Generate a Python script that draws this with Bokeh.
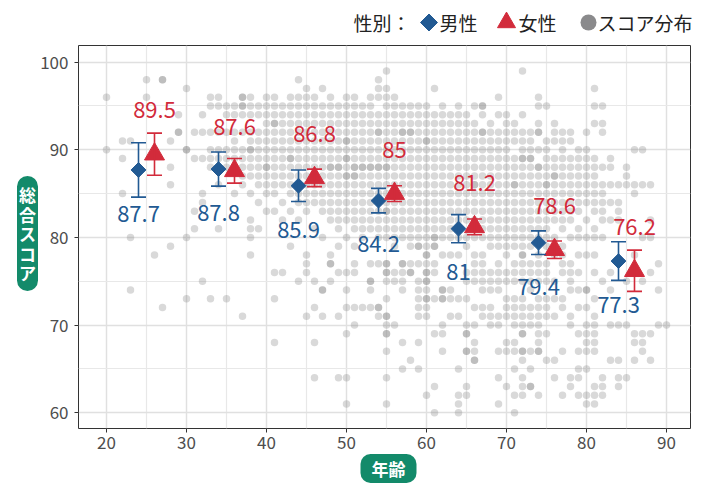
import math
from bokeh.plotting import figure
from bokeh.models import ColumnDataSource, Whisker, TeeHead, FixedTicker, Label, Range1d
from bokeh.embed import file_html
from bokeh.resources import INLINE
from bokeh.core.properties import value

FONT = "Noto Sans CJK JP"
BLUE = "#225A93"
RED = "#D22B3B"
GREY = "#808080"
GREEN = "#138A6A"

# ---------------- data ----------------
male_age = [24, 34, 44, 54, 64, 74, 84]
female_age = [26, 36, 46, 56, 66, 76, 86]
male_mean = [87.7, 87.8, 85.9, 84.2, 81.0, 79.4, 77.3]
female_mean = [89.5, 87.6, 86.8, 85.0, 81.2, 78.6, 76.2]
male_err = [3.1, 1.95, 1.8, 1.4, 1.6, 1.35, 2.2]
female_err = [2.4, 1.4, 1.0, 0.9, 0.9, 1.0, 2.35]

x_ticks = [20, 30, 40, 50, 60, 70, 80, 90]
x_minor = [15, 25, 35, 45, 55, 65, 75, 85, 95]
y_ticks = [60, 70, 80, 90, 100]
y_minor = [55, 65, 75, 85, 95]

legend_title = "性別："
legend_labels = ["男性", "女性", "スコア分布"]
x_title = "年齢"
y_title = "総合スコア"

cloud_ages = list(range(20, 91))
cloud_scores = [
    [96, 90],                                   # 20
    [],                                         # 21
    [91, 89, 85],                               # 22
    [91, 80, 74],                               # 23
    [],                                         # 24
    [98, 96],                                   # 25
    [78],                                       # 26
    [98, 98, 72],                               # 27
    [91, 88, 86, 79],                           # 28
    [94, 92, 92],                               # 29
    [97, 90, 90, 80, 73],                       # 30
    [92, 89, 83, 81],                           # 31
    [94, 92, 89, 85, 84, 75],                   # 32
    [96, 95, 92, 90, 89, 88, 73],               # 33
    [96, 95, 92, 90, 89, 88, 86, 81],           # 34
    [95, 94, 92, 90, 89, 88, 73],               # 35
    [95, 94, 92, 91, 90, 89, 88, 85],           # 36
    [96, 96, 95, 95, 94, 92, 90, 89, 88, 87, 86, 71],           # 37
    [96, 95, 94, 92, 91, 90, 90, 89, 88, 87, 85, 82, 81, 80, 78],  # 38
    [95, 94, 92, 91, 90, 89, 88, 87, 86, 84, 81],               # 39
    [96, 95, 94, 93, 92, 91, 90, 89, 88, 88, 87, 86, 85, 83],   # 40
    [96, 95, 94, 93, 93, 92, 91, 90, 89, 88, 87, 86, 85, 83, 76, 73, 68],  # 41
    [95, 94, 93, 92, 91, 90, 89, 88, 87, 86, 84, 82, 76],       # 42
    [96, 95, 94, 93, 92, 91, 90, 89, 89, 88, 87, 86, 85, 83, 79],  # 43
    [98, 96, 95, 94, 93, 92, 91, 90, 89, 88, 87, 86, 85, 84, 82, 75],  # 44
    [97, 96, 95, 94, 93, 92, 91, 90, 89, 88, 87, 86, 85, 84, 83, 78, 77, 76, 71],  # 45
    [96, 95, 94, 93, 92, 91, 90, 89, 88, 87, 86, 85, 84, 81, 75, 72, 68, 64],  # 46
    [97, 95, 94, 93, 92, 91, 90, 89, 88, 87, 86, 85, 84, 83, 80, 74, 74, 71],  # 47
    [96, 95, 94, 93, 92, 91, 90, 89, 88, 88, 87, 86, 85, 84, 83, 82, 78, 77, 77, 75],  # 48
    [95, 94, 93, 92, 91, 90, 89, 88, 88, 87, 86, 85, 84, 83, 82, 81, 79, 76, 71, 64],  # 49
    [96, 95, 94, 93, 92, 91, 91, 90, 89, 89, 88, 87, 87, 86, 85, 84, 83, 82, 80, 76, 74, 72, 69, 64, 61],  # 50
    [96, 95, 94, 93, 92, 91, 90, 89, 88, 88, 87, 87, 86, 85, 84, 83, 82, 81, 79, 77, 76, 72, 70],  # 51
    [95, 94, 93, 92, 91, 90, 89, 88, 88, 87, 86, 85, 84, 83, 82, 81, 80, 72],  # 52
    [96, 95, 94, 93, 92, 91, 90, 89, 88, 88, 87, 86, 85, 84, 83, 82, 81, 77, 75, 75, 74, 72],  # 53
    [98, 97, 96, 94, 93, 92, 92, 91, 90, 89, 88, 88, 87, 86, 85, 84, 83, 82, 81, 80, 77, 72, 72, 71],  # 54
    [99, 97, 96, 95, 94, 93, 92, 91, 90, 89, 88, 88, 87, 86, 85, 84, 83, 83, 82, 81, 80, 77, 77,
     76, 76, 75, 73, 71, 71, 70, 69, 69, 67, 64, 61],  # 55
    [96, 95, 94, 93, 92, 91, 90, 89, 88, 87, 86, 85, 84, 83, 82, 81, 80, 79, 76, 75, 70],  # 56
    [95, 94, 93, 92, 92, 91, 90, 89, 88, 87, 86, 85, 84, 83, 82, 81, 80, 77, 77, 76, 75, 74, 68, 65],  # 57
    [95, 94, 93, 92, 92, 91, 90, 89, 88, 87, 86, 85, 84, 83, 82, 81, 80, 79, 77, 76, 76, 66],  # 58
    [95, 94, 93, 92, 91, 90, 89, 88, 87, 86, 85, 84, 83, 82, 81, 80, 79, 79, 77, 75, 74, 73,
     72, 71, 68, 65],  # 59
    [95, 94, 93, 92, 91, 91, 90, 89, 88, 87, 86, 85, 84, 83, 82, 81, 80, 79, 78, 78, 77, 76,
     76, 75, 75, 74, 73, 73, 72, 71, 62],  # 60
    [97, 94, 93, 92, 91, 90, 89, 88, 87, 86, 85, 84, 83, 82, 81, 80, 80, 79, 79, 77, 76, 73,
     69, 63, 60],  # 61
    [95, 94, 93, 92, 91, 90, 89, 88, 87, 86, 85, 84, 83, 82, 81, 80, 78, 74, 74, 73, 73, 70, 69, 67],  # 62
    [94, 93, 92, 91, 90, 89, 88, 87, 86, 85, 84, 83, 82, 81, 80, 78, 74, 73, 71],  # 63
    [95, 94, 93, 92, 91, 90, 89, 88, 87, 86, 85, 84, 83, 82, 80, 78, 73, 71, 65, 62, 61, 60],  # 64
    [94, 93, 92, 91, 90, 89, 88, 87, 86, 85, 84, 83, 82, 80, 79, 76, 75, 73, 70, 69, 69, 67,
     67, 63, 62],  # 65
    [95, 93, 92, 91, 90, 89, 88, 87, 86, 86, 85, 84, 83, 82, 81, 80, 78, 77, 76, 75, 72, 70,
     68, 67, 66, 66],  # 66
    [95, 95, 94, 92, 92, 91, 90, 89, 88, 87, 86, 85, 84, 83, 82, 81, 80, 78, 77, 76, 75, 74, 72, 71],  # 67
    [93, 92, 91, 90, 89, 88, 87, 86, 85, 84, 83, 82, 81, 80, 79, 76, 75, 74, 72, 71, 70],  # 68
    [96, 94, 92, 91, 90, 89, 88, 87, 86, 85, 84, 83, 82, 81, 80, 79, 77, 76, 75, 74, 71, 70,
     67, 64, 61],  # 69
    [94, 93, 92, 91, 90, 89, 88, 87, 86, 85, 84, 83, 82, 81, 80, 79, 78, 76, 75, 73, 72, 71,
     68, 67, 63],  # 70
    [93, 92, 91, 89, 88, 87, 86, 86, 85, 84, 83, 82, 81, 80, 79, 77, 76, 75, 73, 72, 71, 70,
     68, 67, 65, 62, 60],  # 71
    [99, 94, 92, 91, 90, 89, 89, 88, 87, 86, 85, 84, 83, 82, 81, 80, 79, 78, 78, 77, 76, 75,
     73, 72, 71, 70, 69, 69, 67, 67, 66, 64, 63, 62],  # 72
    [92, 91, 90, 89, 89, 88, 87, 86, 85, 84, 83, 82, 81, 80, 79, 77, 76, 75, 74, 72, 71, 70,
     67, 65, 63, 63],  # 73
    [96, 95, 93, 92, 92, 90, 88, 88, 87, 86, 85, 84, 83, 82, 81, 80, 78, 77, 76, 75, 73, 72,
     71, 70, 69, 68, 67, 67, 62],  # 74
    [95, 91, 90, 89, 88, 87, 86, 86, 85, 84, 83, 82, 81, 80, 79, 77, 76, 75, 73, 72, 71, 69, 66],  # 75
    [93, 92, 91, 89, 88, 87, 87, 86, 85, 84, 83, 82, 80, 78, 75, 73, 71, 66, 64],  # 76
    [92, 91, 90, 89, 88, 87, 86, 85, 84, 83, 82, 81, 79, 78, 77, 76, 73, 72, 67, 62],  # 77
    [92, 91, 89, 88, 87, 86, 85, 84, 83, 82, 80, 77, 76, 75, 74, 71, 70, 64, 63],  # 78
    [90, 89, 88, 87, 86, 85, 84, 83, 81, 80, 78, 76, 74, 72, 69, 67, 65, 64, 62],  # 79
    [92, 90, 89, 88, 87, 86, 85, 84, 82, 80, 78, 74, 74, 72, 70, 69, 68, 67, 65, 62, 61],  # 80
    [97, 95, 93, 89, 88, 87, 86, 85, 84, 83, 81, 80, 78, 76, 73, 71, 70, 69, 68, 67, 63, 62, 61],  # 81
    [95, 93, 92, 88, 86, 85, 84, 83, 82, 80, 75, 64, 63, 62],  # 82
    [89, 88, 86, 84, 82, 76, 74, 70, 66],       # 83
    [86, 84, 83, 82, 70, 66, 64, 63],           # 84
    [88, 87, 86, 75, 70, 64],                   # 85
    [90, 86, 85, 78, 76, 69, 68, 66],           # 86
    [90, 86, 80, 75, 69, 68, 67],               # 87
    [86, 82, 80, 76, 69, 66],                   # 88
    [77, 74, 70],                               # 89
    [70],                                       # 90
]
assert len(cloud_ages) == len(cloud_scores)

cx, cy = [], []
for a, ss in zip(cloud_ages, cloud_scores):
    for s in ss:
        cx.append(a)
        cy.append(s)

# ---------------- main figure ----------------
p = figure(width=700, height=447, x_range=Range1d(16.5, 93.0), y_range=Range1d(58.2, 101.9),
           output_backend="svg", toolbar_location=None,
           min_border_left=78, min_border_right=10, min_border_top=9, min_border_bottom=55)
p.background_fill_color = "white"
p.border_fill_color = "white"
p.outline_line_color = "#333333"
p.outline_line_width = 1

p.xaxis.ticker = FixedTicker(ticks=x_ticks, minor_ticks=x_minor)
p.yaxis.ticker = FixedTicker(ticks=y_ticks, minor_ticks=y_minor)
for g in (p.xgrid, p.ygrid):
    g.grid_line_color = "#E0E0E0"
    g.grid_line_width = 1.5
    g.minor_grid_line_color = "#E8E8E8"
    g.minor_grid_line_width = 1.2

for ax in (p.xaxis, p.yaxis):
    ax.axis_line_color = None
    ax.major_tick_out = 4
    ax.major_tick_in = 0
    ax.minor_tick_out = 0
    ax.minor_tick_in = 0
    ax.major_tick_line_color = "#333333"
    ax.major_label_text_font = FONT
    ax.major_label_text_font_size = "17px"
    ax.major_label_text_color = "#4D4D4D"
p.xaxis.major_label_standoff = 3
p.yaxis.major_label_standoff = 6

# score cloud
p.scatter(cx, cy, marker="circle", size=7.5, fill_color=GREY, fill_alpha=0.3, line_color=None)

# error bars
src_m = ColumnDataSource(dict(x=male_age, lower=[m - e for m, e in zip(male_mean, male_err)],
                              upper=[m + e for m, e in zip(male_mean, male_err)]))
src_f = ColumnDataSource(dict(x=female_age, lower=[m - e for m, e in zip(female_mean, female_err)],
                              upper=[m + e for m, e in zip(female_mean, female_err)]))
for src, col in ((src_m, BLUE), (src_f, RED)):
    w = Whisker(source=src, base="x", lower="lower", upper="upper", dimension="height",
                line_color=col, line_width=1.6, level="annotation",
                upper_head=TeeHead(size=15, line_color=col, line_width=1.6),
                lower_head=TeeHead(size=15, line_color=col, line_width=1.6))
    p.add_layout(w)

# means
p.scatter(male_age, male_mean, marker="square", angle=math.pi / 4, size=10.5,
          fill_color=BLUE, line_color=BLUE)
p.scatter(female_age, female_mean, marker="triangle", size=20, fill_color=RED, line_color=RED)

# value labels
p.text(male_age, [m - 5 for m in male_mean], text=[f"{m:g}" for m in male_mean],
       text_align="center", text_baseline="middle", text_font=value(FONT),
       text_font_size="22px", text_color=BLUE)
p.text(female_age, [m + 5 for m in female_mean], text=[f"{m:g}" for m in female_mean],
       text_align="center", text_baseline="middle", text_font=value(FONT),
       text_font_size="22px", text_color=RED)

# axis titles in green pills (placed in side panels, so they are not clipped)
p.add_layout(Label(x=310, y=12, x_units="screen", y_units="screen", text=x_title,
                   text_align="center", text_baseline="middle", text_font=FONT,
                   text_font_size="17px", text_font_style="bold", text_color="white",
                   background_fill_color=GREEN, border_radius=10, padding=(11, 2)), "below")
p.add_layout(Label(x=11, y=195, x_units="screen", y_units="screen", text="\n".join(y_title),
                   text_align="center", text_baseline="middle", text_font=FONT,
                   text_font_size="17px", text_font_style="bold", text_color="white",
                   text_line_height=0.78,
                   background_fill_color=GREEN, border_radius=11, padding=(2, 6)), "left")

# ---------------- legend strip ----------------
lg = figure(width=700, height=36, x_range=Range1d(0, 700), y_range=Range1d(0, 36),
            output_backend="svg", toolbar_location=None, x_axis_type=None, y_axis_type=None,
            min_border=0)
lg.grid.visible = False
lg.outline_line_color = None
lg.background_fill_color = "white"
lg.border_fill_color = "white"
ly = 14
lg.text([353], [ly], text=[legend_title], text_align="left", text_baseline="middle",
        text_font=value(FONT), text_font_size="19px", text_color="#222222")
lg.scatter([428.5], [ly], marker="square", angle=math.pi / 4, size=12, fill_color=BLUE, line_color=BLUE)
lg.scatter([506], [ly], marker="triangle", size=18, fill_color=RED, line_color=RED)
lg.scatter([588], [ly], marker="circle", size=16, fill_color="#8A8A8C", line_color=None)
lg.text([439, 518, 597], [ly, ly, ly], text=legend_labels, text_align="left", text_baseline="middle",
        text_font=value(FONT), text_font_size="19px", text_color="#222222")

open("out.html", "w").write(file_html([lg, p], INLINE))
